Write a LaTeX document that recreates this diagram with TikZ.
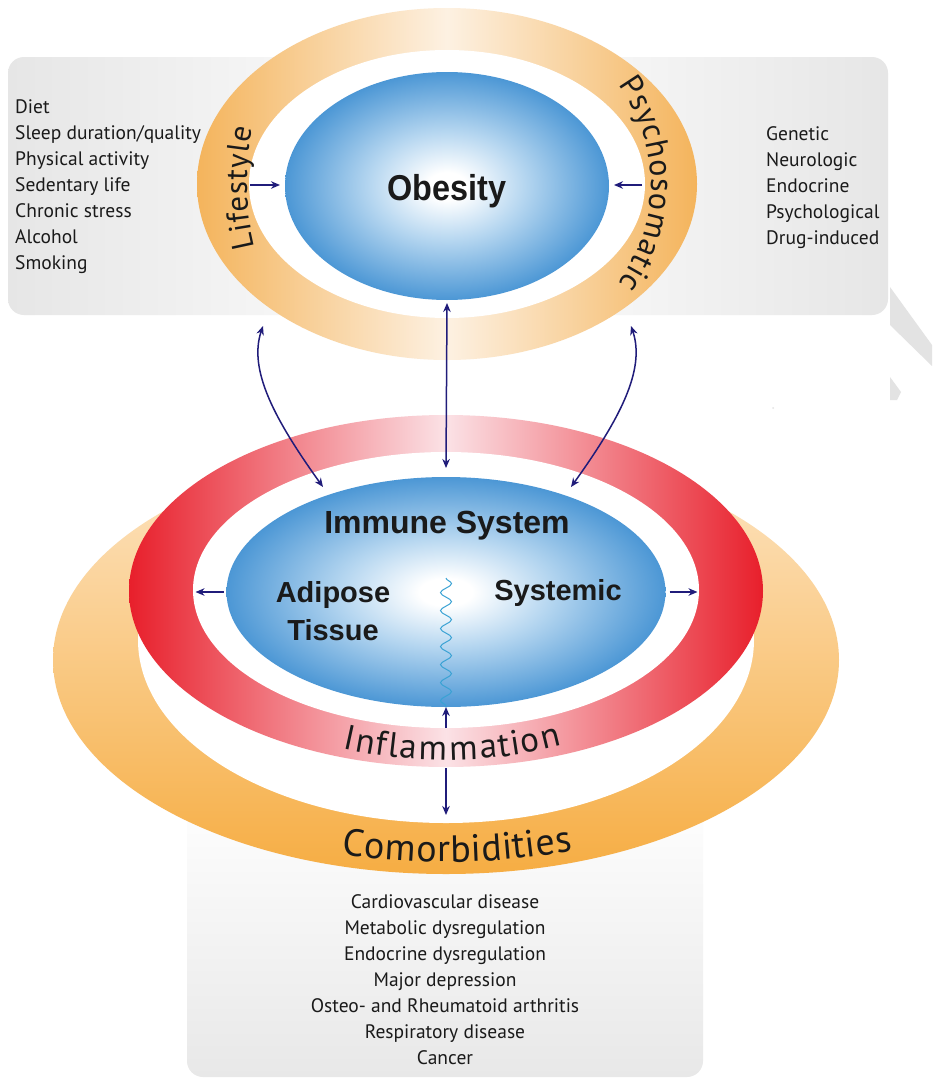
\documentclass[tikz,border=0pt]{standalone}
\usepackage{fontspec}
\newfontfamily\lst{PT Sans}
\newfontfamily\arial{Liberation Sans}
\usetikzlibrary{shapes.geometric, arrows.meta, decorations.text, decorations.pathmorphing}
\definecolor{txt}{HTML}{1A1A1A}
\definecolor{navy}{HTML}{201C7A}
\definecolor{wavec}{HTML}{3AA2D4}
\definecolor{boxg}{HTML}{E6E6E6}
\definecolor{boxg2}{HTML}{E8E8E8}
\definecolor{orD}{HTML}{F4B45C}
\definecolor{orL}{HTML}{FDF1E2}
\definecolor{obL}{HTML}{FDE6C6}
\definecolor{obD}{HTML}{F6AD43}
\definecolor{rd}{HTML}{E81F2B}
\definecolor{pk}{HTML}{FBE2E6}
\definecolor{blD}{HTML}{1A6EBB}
\definecolor{blM}{HTML}{4C97D5}
\definecolor{blL}{HTML}{B5D6F0}
\definecolor{wm}{HTML}{E3E3E3}
\pgfdeclareradialshading{blueball}{\pgfpoint{0bp}{0bp}}{color(0bp)=(white); color(3bp)=(white); color(12bp)=(blL); color(25bp)=(blM); color(35bp)=(blD); color(50bp)=(blD)}
\newcommand\lstF{\lst\fontsize{19.5}{24}\selectfont}
\newcommand\curvF{\lst\fontsize{31}{31}\selectfont}
\newcommand\psyF{\lst\fontsize{32}{32}\selectfont}
\newcommand\infF{\lst\fontsize{35}{35}\selectfont}
\newcommand\comF{\lst\fontsize{38}{38}\selectfont}
\tikzset{
  lstL/.style={font=\lstF, text=txt, inner sep=0pt, anchor=base west},
  lstC/.style={font=\lstF, text=txt, inner sep=0pt, anchor=base},
  bigb/.style={font=\arial\bfseries\fontsize{#1}{#1}\selectfont, text=txt, inner sep=0pt, anchor=base},
  blueel/.style={ellipse, inner sep=0pt, outer sep=0pt, shade, shading=blueball},
  arw/.style={draw=navy, line width=1.5pt, -{Stealth[length=9pt,width=7.5pt]}},
  dblarw/.style={draw=navy, line width=1.5pt, {Stealth[length=9pt,width=7.5pt]}-{Stealth[length=9pt,width=7.5pt]}},
}
\begin{document}
\begin{tikzpicture}[x=1pt,y=1pt]
\useasboundingbox (0,0) rectangle (932,-1084);
\fill[white] (0,0) rectangle (932,-1084);

% watermark fragments
\fill[wm] (890,-287) -- (932,-345) -- (932,-366) -- (890,-325) -- cycle;
\fill[wm] (890,-377) -- (901,-392) -- (897,-400) -- (890,-400) -- cycle;
\fill[wm] (773,-408) circle (1pt);

% ---------- top part ----------
\shade[left color=boxg, right color=boxg, middle color=white, rounded corners=16pt] (8,-57) rectangle (888,-315);
\shade[left color=orD, right color=orD, middle color=orL] (447,-184) ellipse [x radius=250pt, y radius=176pt];
\fill[white] (447,-184) ellipse [x radius=198pt, y radius=134pt];
\node[blueel, minimum width=324pt, minimum height=228pt] (ob) at (447,-186) {};
\node[bigb=36] (obt) at (447,-200) {\scalebox{0.9}[1]{Obesity}};

\path[decorate, decoration={text effects along path, text={Lifestyle}, text effects/.cd, text along path, fit text to path, characters={font=\curvF, text=txt, anchor=base}}]
  ([shift={(196:200pt and 230pt)}]447,-184) arc[start angle=196, end angle=166, x radius=200pt, y radius=230pt];
\path[decorate, decoration={text effects along path, text={Psychosomatic}, text effects/.cd, text along path, fit text to path, characters={font=\psyF, text=txt, anchor=base}}]
  ([shift={(33:204pt and 182pt)}]447,-184) arc[start angle=33, end angle=-33, x radius=204pt, y radius=182pt];

\foreach \t [count=\i] in {Diet, Sleep duration/quality, Physical activity, Sedentary life, Chronic stress, Alcohol, Smoking}
  \node[lstL] (ls\i) at (15,{-113-26*(\i-1)}) {\t};
\foreach \t [count=\i] in {Genetic, Neurologic, Endocrine, Psychological, Drug-induced}
  \node[lstL] (ps\i) at (766,{-140-26*(\i-1)}) {\t};

\coordinate (lsA) at (250,-185);
\coordinate (psA) at (642,-185);
\draw[arw] (lsA) -- ([xshift=-5pt,yshift=1pt]ob.west);
\draw[arw] (psA) -- ([xshift=5pt,yshift=1pt]ob.east);

% ---------- bottom part ----------
\shade[top color=white, bottom color=boxg2, rounded corners=16pt] (187,-790) rectangle (703,-1077);
\shade[top color=obL, bottom color=obD] (446,-660) ellipse [x radius=393pt, y radius=214pt];
\fill[white] (446,-640) ellipse [x radius=308pt, y radius=183pt];
\shade[left color=rd, right color=rd, middle color=pk] (446,-591) ellipse [x radius=317pt, y radius=176pt];
\fill[white] (446,-590) ellipse [x radius=253pt, y radius=138pt];
\node[blueel, minimum width=439pt, minimum height=230pt] (im) at (446,-592) {};

\node[bigb=32] (imt) at (447,-533) {Immune System};
\node[bigb=29] (adt) at (333,-602) {Adipose};
\node[bigb=29] (tit) at (333,-640) {Tissue};
\node[bigb=29] (syt) at (558,-600) {Systemic};

\path[decorate, decoration={text effects along path, text={Inflammation}, text effects/.cd, text along path, fit text to path, characters={font=\infF, text=txt, anchor=base}}]
  ([shift={(248.8:285pt and 170pt)}]446,-590) arc[start angle=248.8, end angle=294, x radius=285pt, y radius=170pt];
\path[decorate, decoration={text effects along path, text={Comorbidities}, text effects/.cd, text along path, fit text to path, characters={font=\comF, text=txt, anchor=base}}]
  ([shift={(254.8:400pt and 220pt)}]446,-642) arc[start angle=254.8, end angle=288.5, x radius=400pt, y radius=220pt];

\foreach \t [count=\i] in {Cardiovascular disease, Metabolic dysregulation, Endocrine dysregulation, Major depression, Osteo- and Rheumatoid arthritis, Respiratory disease, Cancer}
  \node[lstC] (cm\i) at (445,{-908-26*(\i-1)}) {\t};

% wave
\coordinate (wvT) at (446,-578);
\draw[wavec, line width=1pt, decorate, decoration={snake, segment length=18pt, amplitude=5.5pt}] (wvT) -- (im.south);

% arrows
\coordinate (lcT) at (263,-326);
\coordinate (lcB) at (323,-487);
\coordinate (rcT) at (631,-326);
\coordinate (rcB) at (571,-487);
\draw[dblarw] (lcT) .. controls (248,-370) and (275,-420) .. (lcB);
\draw[dblarw] (rcT) .. controls (646,-370) and (619,-420) .. (rcB);
\draw[dblarw] ([yshift=-3pt]ob.south) -- ([yshift=9pt]im.north);
\draw[arw] ([xshift=-3pt]im.west) -- ++(-28,0) coordinate (adA);
\draw[arw] ([xshift=4pt]im.east) -- ++(28,0) coordinate (syA);
\coordinate (infU) at (446,-728);
\draw[arw] (infU) -- (im.south);
\coordinate (infD) at (446,-768);
\coordinate (comU) at (446,-815);
\draw[arw] (infD) -- (comU);
\end{tikzpicture}
\end{document}
